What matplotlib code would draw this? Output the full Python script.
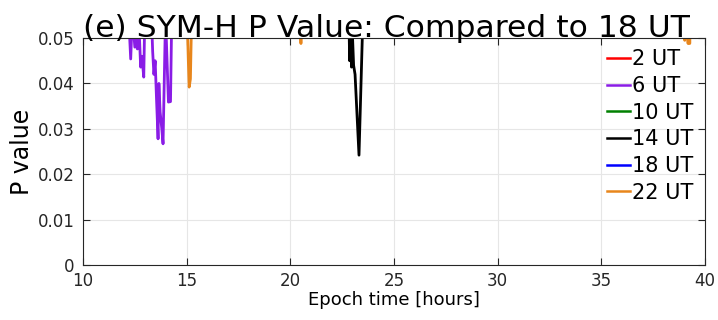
import numpy as np
import matplotlib
matplotlib.use('Agg')
import matplotlib.pyplot as plt

# P values compared to 18 UT (values above 0.05 fall outside the plotted range)
labels = ['2 UT', '6 UT', '10 UT', '14 UT', '18 UT', '22 UT']
colors = ['#ff0000', '#8a1ce6', '#008000', '#000000', '#0000ff', '#e8861c']

t_02, p_02 = [], []
t_06 = [12.20, 12.30, 12.38, 12.50, 12.55, 12.62, 12.68, 12.78, 12.84, 12.93, 12.98,
        13.30, 13.36, 13.42, 13.48, 13.55, 13.62, 13.66, 13.72, 13.80, 13.86, 13.98,
        14.12, 14.22, 14.28, 14.40]
p_06 = [0.055, 0.0454, 0.055, 0.048, 0.055, 0.0476, 0.055, 0.0436, 0.046, 0.0414, 0.055,
        0.055, 0.047, 0.042, 0.045, 0.036, 0.0278, 0.040, 0.0337, 0.030, 0.0267, 0.055,
        0.0359, 0.036, 0.055, 0.055]
t_10, p_10 = [], []
t_14 = [22.78, 22.82, 22.86, 22.90, 22.95, 23.00, 23.05, 23.12, 23.31, 23.50]
p_14 = [0.055, 0.055, 0.045, 0.052, 0.0436, 0.050, 0.044, 0.042, 0.0242, 0.055]
t_18, p_18 = [], []
t_22 = [15.02, 15.08, 15.12, 15.18, 15.24, np.nan,
        20.45, 20.51, 20.56, np.nan,
        38.98, 39.02, 39.06, 39.14, 39.18, 39.22, 39.26, 39.30]
p_22 = [0.055, 0.045, 0.0392, 0.041, 0.055, np.nan,
        0.055, 0.0488, 0.055, np.nan,
        0.055, 0.0495, 0.055, 0.055, 0.0488, 0.055, 0.0488, 0.055]

series = [(t_02, p_02), (t_06, p_06), (t_10, p_10), (t_14, p_14), (t_18, p_18), (t_22, p_22)]

xticks = [10, 15, 20, 25, 30, 35, 40]
yticks = [0, 0.01, 0.02, 0.03, 0.04, 0.05]
ytick_labels = ['0', '0.01', '0.02', '0.03', '0.04', '0.05']

plt.rcParams['font.family'] = ['DejaVu Sans']

fig = plt.figure(figsize=(7.18, 3.2), dpi=100)
ax = fig.add_axes([0.1156, 0.172, 0.8664, 0.709])

for (t, p), lab, c in zip(series, labels, colors):
    ax.plot(t, p, color=c, lw=2.0, label=lab)

ax.set_xlim(10, 40)
ax.set_ylim(0, 0.05)
ax.set_xticks(xticks)
ax.set_xticklabels([str(x) for x in xticks], fontsize=12)
ax.set_yticks(yticks)
ax.set_yticklabels(ytick_labels, fontsize=12)
ax.tick_params(direction='in', length=5, width=0.8, top=True, right=True,
               colors='0.15')
ax.tick_params(axis='x', pad=5)
ax.tick_params(axis='y', pad=6)
ax.grid(True, color='0.9', lw=0.8)
ax.set_axisbelow(True)
for s in ax.spines.values():
    s.set_color('0.15')
    s.set_linewidth(0.8)

ax.set_xlabel('Epoch time [hours]', fontsize=13, labelpad=1)
ax.set_ylabel('P value', fontsize=17, labelpad=3)
ax.set_title('(e) SYM-H P Value: Compared to 18 UT', fontsize=22.6, loc='left', pad=1)

leg = ax.legend(loc='upper left', bbox_to_anchor=(0.842, 0.95), frameon=False,
                fontsize=15, handlelength=1.1, handletextpad=0.1,
                labelspacing=0.32, borderpad=0, borderaxespad=0)
for line in leg.get_lines():
    line.set_linewidth(1.8)

fig.savefig('out.png', dpi=100)
